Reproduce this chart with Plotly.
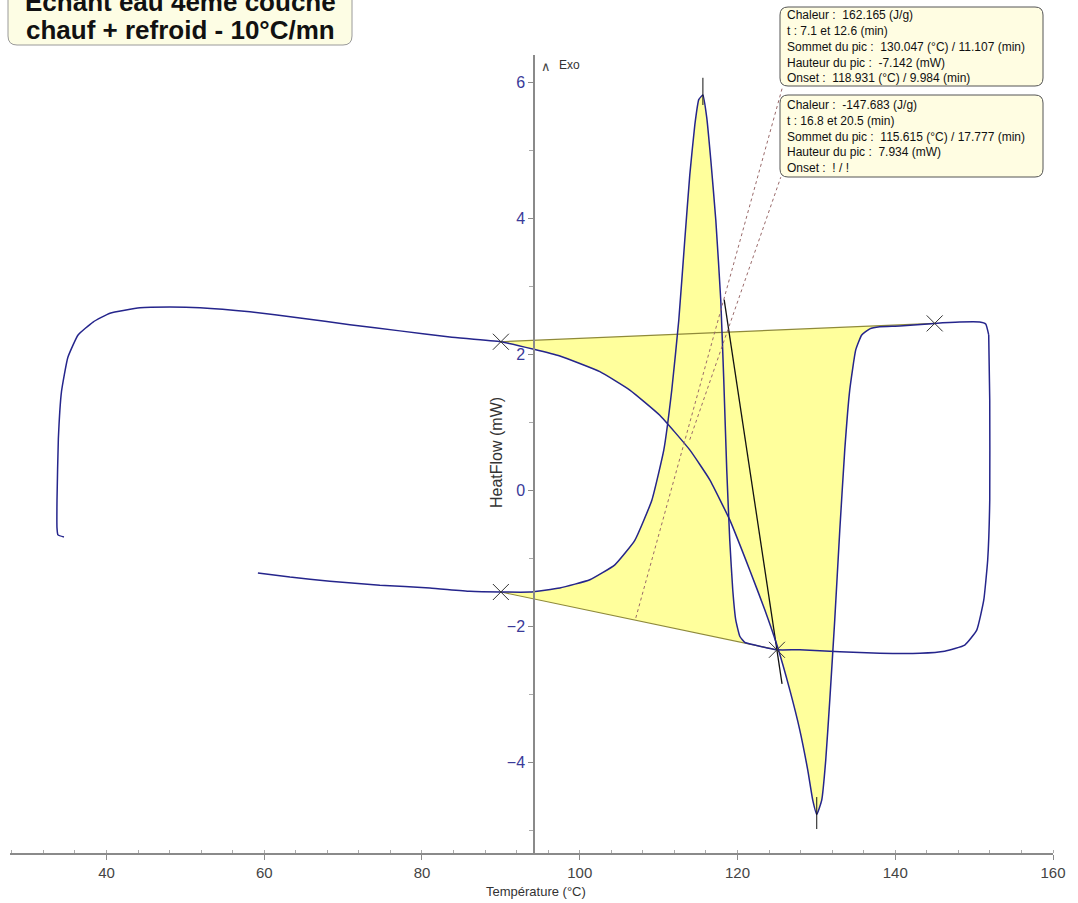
import plotly.graph_objects as go

# ---- DSC run: heating then cooling, heat flow vs temperature ----
heat_T = [34.61, 33.85, 33.73, 33.73, 33.9, 34.3, 35.1, 36.4, 38.3, 40.44,
          44.25, 48.05, 51.85, 58.19, 64.52, 70.86, 77.2, 83.54, 90.0, 94.18,
          97.48, 102.55, 106.35, 110.15, 113.95, 116.49, 119.02, 121.56, 123.46, 125.11,
          126.63, 127.9, 128.91, 129.54, 130.05, 130.68, 131.19, 131.7, 132.33, 132.97,
          133.6, 134.23, 134.99, 135.75, 136.77, 138.04, 140.57, 145.0, 148.17, 150.71,
          151.47, 151.85]
heat_HF = [-0.69, -0.66, -0.56, -0.15, 0.75, 1.45, 1.95, 2.28, 2.47, 2.60,
           2.68, 2.69, 2.68, 2.62, 2.53, 2.43, 2.34, 2.25, 2.18, 2.07,
           1.97, 1.74, 1.47, 1.10, 0.59, 0.15, -0.44, -1.18, -1.76, -2.32,
           -2.94, -3.53, -4.12, -4.56, -4.77, -4.56, -3.97, -3.09, -1.91, -0.59,
           0.59, 1.47, 2.06, 2.28, 2.37, 2.40, 2.41, 2.45, 2.47, 2.47,
           2.44, 2.28]

cool_T = [151.85, 151.98, 151.98, 151.72, 151.22, 150.33, 148.81, 146.27, 143.1, 138.04,
          132.97, 127.9, 125.0, 122.19, 120.92, 120.29, 119.78, 119.4, 119.02, 118.64,
          118.26, 117.88, 117.25, 116.62, 116.11, 115.62, 115.09, 114.59, 113.95, 113.32,
          112.56, 111.67, 110.66, 109.14, 106.98, 104.45, 101.28, 97.48, 93.68, 90.0,
          86.07, 81.0, 74.66, 68.33, 63.26, 59.2]
cool_HF = [2.28, 1.32, -0.15, -1.03, -1.62, -2.06, -2.28, -2.37, -2.40, -2.40,
           -2.38, -2.35, -2.35, -2.28, -2.24, -2.15, -1.91, -1.47, -0.74, 0.29,
           1.62, 2.79, 3.97, 4.85, 5.47, 5.81, 5.74, 5.37, 4.63, 3.68,
           2.5, 1.47, 0.59, -0.15, -0.74, -1.10, -1.32, -1.44, -1.5, -1.5,
           -1.49, -1.44, -1.40, -1.34, -1.28, -1.22]

# integration limits and baselines
melt_lim_T = [90.0, 145.0]
melt_base_HF = [2.18, 2.45]
cryst_lim_T = [90.0, 125.0]
cryst_base_HF = [-1.5, -2.35]

# peak results
melt_peak_T, melt_peak_h = 130.047, -7.142
cryst_peak_T, cryst_peak_h = 115.615, 7.934
melt_onset_T = 118.931
melt_tangent_slope = -0.77  # mW/°C

melt_info = ["Chaleur :  162.165 (J/g)",
             "t : 7.1 et 12.6 (min)",
             "Sommet du pic :  130.047 (°C) / 11.107 (min)",
             "Hauteur du pic :  -7.142 (mW)",
             "Onset :  118.931 (°C) / 9.984 (min)"]
cryst_info = ["Chaleur :  -147.683 (J/g)",
              "t : 16.8 et 20.5 (min)",
              "Sommet du pic :  115.615 (°C) / 17.777 (min)",
              "Hauteur du pic :  7.934 (mW)",
              "Onset :  ! / !"]
title_lines = ["Echant eau 4eme couche", "chauf + refroid - 10°C/mn"]

x_range = [27.77, 160.0]
y_range = [-5.338, 6.397]

CURVE = "#25258c"
BASE = "#8f8a3a"
FILL = "#ffff9c"
FONT = "Liberation Sans, Arial, sans-serif"

W, H = 1078, 903
ML, MR, MT, MB = 10, 25, 55, 50


def base_at(T, lim, base):
    return base[0] + (T - lim[0]) / (lim[1] - lim[0]) * (base[1] - base[0])


fig = go.Figure()

# melting area: baseline -> heating curve back
seg = [(t, h) for t, h in zip(heat_T, heat_HF) if melt_lim_T[0] <= t <= melt_lim_T[1]]
px = melt_lim_T + [t for t, _ in reversed(seg)]
py = melt_base_HF + [h for _, h in reversed(seg)]
fig.add_trace(go.Scatter(x=px, y=py, fill="toself", fillcolor=FILL, mode="none",
                         hoverinfo="skip", showlegend=False))

# crystallisation area: baseline -> cooling curve back
seg = [(t, h) for t, h in zip(cool_T, cool_HF) if cryst_lim_T[0] <= t <= cryst_lim_T[1]]
seg = sorted(seg)
px = cryst_lim_T + [t for t, _ in reversed(seg)]
py = cryst_base_HF + [h for _, h in reversed(seg)]
fig.add_trace(go.Scatter(x=px, y=py, fill="toself", fillcolor=FILL, mode="none",
                         hoverinfo="skip", showlegend=False))

# baselines
for lim, base in ((melt_lim_T, melt_base_HF), (cryst_lim_T, cryst_base_HF)):
    fig.add_trace(go.Scatter(x=lim, y=base, mode="lines",
                             line=dict(color=BASE, width=1.2), showlegend=False))

# onset tangent
on_HF = base_at(melt_onset_T, melt_lim_T, melt_base_HF)
tan_HF = [2.8, -2.85]
tan_T = [melt_onset_T + (h - on_HF) / melt_tangent_slope for h in tan_HF]
fig.add_trace(go.Scatter(x=tan_T, y=tan_HF, mode="lines",
                         line=dict(color="#111111", width=1.3), showlegend=False))

# curves
fig.add_trace(go.Scatter(x=heat_T, y=heat_HF, mode="lines",
                         line=dict(color=CURVE, width=1.5, shape="spline", smoothing=0.4),
                         showlegend=False))
fig.add_trace(go.Scatter(x=cool_T, y=cool_HF, mode="lines",
                         line=dict(color=CURVE, width=1.5, shape="spline", smoothing=0.4),
                         showlegend=False))

# integration limit markers
fig.add_trace(go.Scatter(x=melt_lim_T + cryst_lim_T, y=melt_base_HF + cryst_base_HF,
                         mode="markers",
                         marker=dict(symbol="x-thin", size=16,
                                     line=dict(color="#333333", width=1)),
                         showlegend=False))

# peak stubs
m_top = base_at(melt_peak_T, melt_lim_T, melt_base_HF) + melt_peak_h
c_top = base_at(cryst_peak_T, cryst_lim_T, cryst_base_HF) + cryst_peak_h
fig.add_shape(type="line", x0=melt_peak_T, x1=melt_peak_T, y0=m_top + 0.25, y1=m_top - 0.22,
              line=dict(color="#111111", width=1))
fig.add_shape(type="line", x0=cryst_peak_T, x1=cryst_peak_T, y0=c_top - 0.15, y1=c_top + 0.25,
              line=dict(color="#111111", width=1))

# leader lines to the result boxes
fig.add_shape(type="line", x0=107.11, y0=-1.88, x1=125.74, y1=5.94,
              line=dict(color="#9a6a6a", width=1, dash="dot"))
fig.add_shape(type="line", x0=113.95, y0=0.74, x1=125.49, y1=4.60,
              line=dict(color="#9a6a6a", width=1, dash="dot"))


def to_paper(xp, yp):
    return (xp - ML) / (W - ML - MR), (H - MB - yp) / (H - MT - MB)


def rounded_box(x0, y0, x1, y1, r, fill, line):
    a0, b0 = to_paper(x0, y1)
    a1, b1 = to_paper(x1, y0)
    rx = r / (W - ML - MR)
    ry = r / (H - MT - MB)
    path = (f"M {a0+rx},{b0} L {a1-rx},{b0} Q {a1},{b0} {a1},{b0+ry} "
            f"L {a1},{b1-ry} Q {a1},{b1} {a1-rx},{b1} L {a0+rx},{b1} "
            f"Q {a0},{b1} {a0},{b1-ry} L {a0},{b0+ry} Q {a0},{b0} {a0+rx},{b0} Z")
    fig.add_shape(type="path", path=path, xref="paper", yref="paper",
                  fillcolor=fill, line=dict(color=line, width=1), layer="above")


# title box
rounded_box(8, -20, 352, 45, 9, "#fdfde4", "#9a9a9a")
for txt, yc in zip(title_lines, [2, 30]):
    xa, ya = to_paper(180, yc)
    fig.add_annotation(x=xa, y=ya, xref="paper", yref="paper", text=f"<b>{txt}</b>",
                       showarrow=False, xanchor="center", yanchor="middle",
                       font=dict(family=FONT, size=26, color="#111111"))

# result boxes
for lines, ytop, ybot, ys in ((melt_info, 7, 86, [15, 31, 47, 63, 78]),
                              (cryst_info, 95, 177, [105, 121, 137, 152, 168])):
    rounded_box(780, ytop, 1043, ybot, 8, "#fffde2", "#555555")
    for txt, yc in zip(lines, ys):
        xa, ya = to_paper(785, yc)
        fig.add_annotation(x=xa, y=ya, xref="paper", yref="paper", text=txt,
                           showarrow=False, xanchor="left", yanchor="middle",
                           font=dict(family=FONT, size=12, color="#111111"))

# axis titles and Exo flag
xa, ya = to_paper(496, 453)
fig.add_annotation(x=xa, y=ya, xref="paper", yref="paper", text="HeatFlow (mW)",
                   textangle=-90, showarrow=False, xanchor="center", yanchor="middle",
                   font=dict(family=FONT, size=16, color="#333333"))
xa, ya = to_paper(536, 891)
fig.add_annotation(x=xa, y=ya, xref="paper", yref="paper", text="Température (°C)",
                   showarrow=False, xanchor="center", yanchor="middle",
                   font=dict(family=FONT, size=13, color="#333333"))
xa, ya = to_paper(546, 66)
fig.add_annotation(x=xa, y=ya, xref="paper", yref="paper", text="∧",
                   showarrow=False, xanchor="center", yanchor="middle",
                   font=dict(family="DejaVu Sans", size=13, color="#444444"))
xa, ya = to_paper(557, 65)
fig.add_annotation(x=xa, y=ya, xref="paper", yref="paper", text="Exo",
                   showarrow=False, xanchor="left", yanchor="middle",
                   font=dict(family=FONT, size=12, color="#333333"))

ypos = (534 - ML) / (W - ML - MR)

fig.update_layout(
    width=W, height=H,
    margin=dict(l=ML, r=MR, t=MT, b=MB),
    paper_bgcolor="white", plot_bgcolor="white",
    showlegend=False,
    xaxis=dict(range=x_range, showgrid=False, zeroline=False, showline=True,
               linecolor="#8a8a8a", linewidth=1.5, ticks="outside", ticklen=5,
               tickcolor="#8a8a8a", tick0=0, dtick=20, ticklabelstandoff=0,
               minor=dict(dtick=4, ticks="inside", ticklen=3, tickcolor="#aaaaaa"),
               tickfont=dict(family=FONT, size=15, color="#444444")),
    yaxis=dict(range=y_range, anchor="free", position=ypos, showgrid=False,
               zeroline=False, showline=True, linecolor="#8a8a8a", linewidth=1.5,
               ticks="outside", ticklen=5, tickcolor="#8a8a8a", tick0=0, dtick=2,
               minor=dict(dtick=1, ticks="outside", ticklen=4, tickcolor="#aaaaaa"),
               tickfont=dict(family=FONT, size=16, color="#3a3a99")),
)

fig.write_html("out.html")
